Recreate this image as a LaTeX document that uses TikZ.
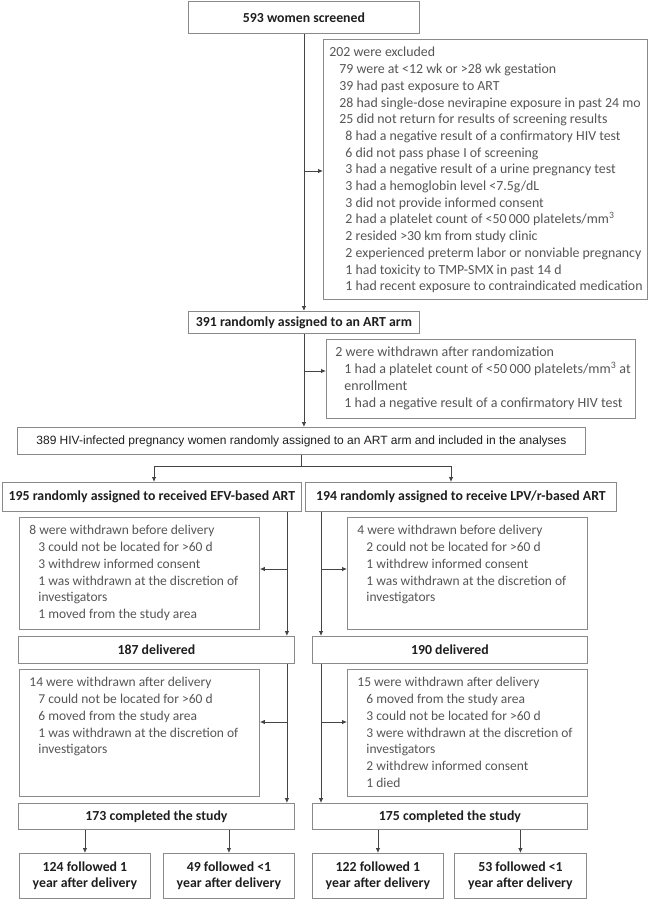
\documentclass[tikz,border=0pt]{standalone}
\usepackage{fontspec}
\setmainfont{Carlito}
\newfontfamily\arialf{Liberation Sans}
\usetikzlibrary{arrows.meta,calc}
\definecolor{boxc}{HTML}{8A8A8A}
\definecolor{txtc}{HTML}{555555}
\definecolor{headc}{HTML}{1E1E1E}
\definecolor{linec}{HTML}{444444}
\newcommand{\dfont}{\fontsize{13.5}{16.7}\selectfont}
\newcommand{\bigdfont}{\fontsize{13.85}{16.7}\selectfont}
\newcommand{\firstln}{\rule{0pt}{17.5pt}}
\newcommand{\dline}[2][0pt]{\mbox{\hspace*{#1}#2}\\}
\begin{document}
\begin{tikzpicture}[x=1pt,y=-1pt,
  box/.style={draw=boxc, line width=0.9pt, rectangle, inner sep=0pt, anchor=north west},
  head/.style={box, font=\fontsize{13.8}{16}\selectfont\bfseries, text=headc, align=center},
  dbox/.style={box, font=\dfont, text=txtc},
  arr/.style={draw=linec, line width=0.8pt, -{Latex[length=5pt,width=4.5pt]}},
  lnk/.style={draw=linec, line width=0.8pt}]
\useasboundingbox (0,0) rectangle (648,900);

% top section
\node[head, minimum width=231, minimum height=32] (b593) at (188,1) {593 women screened};
\node[dbox, font=\bigdfont] (exc) at (323,39) {\begin{minipage}[t][260pt][t]{324pt}\leftskip=6pt
\firstln 202 were excluded\\
\dline[10pt]{79 were at <12 wk or >28 wk gestation}
\dline[10pt]{39 had past exposure to ART}
\dline[10pt]{28 had single-dose nevirapine exposure in past 24 mo}
\dline[10pt]{25 did not return for results of screening results}
\dline[16pt]{8 had a negative result of a confirmatory HIV test}
\dline[16pt]{6 did not pass phase I of screening}
\dline[16pt]{3 had a negative result of a urine pregnancy test}
\dline[16pt]{3 had a hemoglobin level <7.5g/dL}
\dline[16pt]{3 did not provide informed consent}
\dline[16pt]{2 had a platelet count of <50\,000 platelets/mm\textsuperscript{3}}
\dline[16pt]{2 resided >30 km from study clinic}
\dline[16pt]{2 experienced preterm labor or nonviable pregnancy}
\dline[16pt]{1 had toxicity to TMP-SMX in past 14 d}
\mbox{\hspace*{16pt}1 had recent exposure to contraindicated medication}
\end{minipage}};
\node[head, minimum width=231, minimum height=22] (b391) at (188,311) {391 randomly assigned to an ART arm};
\node[dbox, font=\fontsize{14}{17}\selectfont] (wd) at (326,339) {\begin{minipage}[t][79pt][t]{309pt}\leftskip=9pt
\firstln 2 were withdrawn after randomization\\
\dline[9pt]{1 had a platelet count of <50\,000 platelets/mm\textsuperscript{3} at}
\dline[9pt]{enrollment}
\mbox{\hspace*{9pt}1 had a negative result of a confirmatory HIV test}
\end{minipage}};
\node[box, minimum width=568, minimum height=27, font=\arialf\fontsize{12}{14}\selectfont, text=headc] (b389) at (17,427) {389 HIV-infected pregnancy women randomly assigned to an ART arm and included in the analyses};

% arms
\node[head, minimum width=299, minimum height=29] (b195) at (2,482) {195 randomly assigned to received EFV-based ART};
\node[head, minimum width=311, minimum height=29] (b194) at (305,482) {194 randomly assigned to receive LPV/r-based ART};

\node[dbox] (bd1) at (19,517) {\begin{minipage}[t][112pt][t]{240pt}\leftskip=10pt
\firstln 8 were withdrawn before delivery\\
\dline[9pt]{3 could not be located for >60 d}
\dline[9pt]{3 withdrew informed consent}
\dline[9pt]{1 was withdrawn at the discretion of}
\dline[9pt]{investigators}
\mbox{\hspace*{9pt}1 moved from the study area}
\end{minipage}};
\node[dbox] (bd2) at (347,517) {\begin{minipage}[t][112pt][t]{240pt}\leftskip=10pt
\firstln 4 were withdrawn before delivery\\
\dline[9pt]{2 could not be located for >60 d}
\dline[9pt]{1 withdrew informed consent}
\dline[9pt]{1 was withdrawn at the discretion of}
\mbox{\hspace*{9pt}investigators}
\end{minipage}};

\node[head, minimum width=276, minimum height=27] (b187) at (18,636) {187 delivered};
\node[head, minimum width=275, minimum height=27] (b190) at (312,636) {190 delivered};

\node[dbox] (ad1) at (19,669) {\begin{minipage}[t][127pt][t]{240pt}\leftskip=10pt
\firstln 14 were withdrawn after delivery\\
\dline[9pt]{7 could not be located for >60 d}
\dline[9pt]{6 moved from the study area}
\dline[9pt]{1 was withdrawn at the discretion of}
\mbox{\hspace*{9pt}investigators}
\end{minipage}};
\node[dbox] (ad2) at (347,669) {\begin{minipage}[t][127pt][t]{240pt}\leftskip=10pt
\firstln 15 were withdrawn after delivery\\
\dline[9pt]{6 moved from the study area}
\dline[9pt]{3 could not be located for >60 d}
\dline[9pt]{3 were withdrawn at the discretion of}
\dline[9pt]{investigators}
\dline[9pt]{2 withdrew informed consent}
\mbox{\hspace*{9pt}1 died}
\end{minipage}};

\node[head, minimum width=276, minimum height=26] (b173) at (18,803) {173 completed the study};
\node[head, minimum width=275, minimum height=26] (b175) at (312,803) {175 completed the study};

\node[head, minimum width=131, minimum height=45] (b124) at (19,853) {124 followed 1\\year after delivery};
\node[head, minimum width=131, minimum height=45] (b49) at (163,853) {49 followed <1\\year after delivery};
\node[head, minimum width=131, minimum height=45] (b122) at (312,853) {122 followed 1\\year after delivery};
\node[head, minimum width=132, minimum height=45] (b53) at (454,853) {53 followed <1\\year after delivery};

% connectors
\coordinate (excin) at ([yshift=-132pt]exc.north west);
\draw[arr] (b593.south) -- (b391.north);
\draw[arr] (b593.south |- excin) -- (excin);
\coordinate (wdin) at ([yshift=-32pt]wd.north west);
\draw[arr] (b391.south) -- (b391.south |- b389.north);
\draw[arr] (b391.south |- wdin) -- (wdin);

\coordinate (sp) at (302,466);
\coordinate (sl) at (154,466);
\coordinate (sr) at (451,466);
\draw[lnk] (b389.south) -- (b389.south |- sp);
\draw[lnk] (sl) -- (sr);
\draw[arr] (sl) -- (sl |- b195.north);
\draw[arr] (sr) -- (sr |- b194.north);

\coordinate (L1) at ([xshift=-15pt]b195.south east);
\coordinate (R1) at ([xshift=16pt]b194.south west);
\coordinate (bd1in) at ([yshift=-52pt]bd1.north east);
\coordinate (bd2in) at ([yshift=-52pt]bd2.north west);
\draw[arr] (L1) -- (L1 |- b187.north);
\draw[arr] (L1 |- bd1in) -- (bd1in);
\draw[arr] (R1) -- (R1 |- b190.north);
\draw[arr] (R1 |- bd2in) -- (bd2in);

\coordinate (ad1in) at ([yshift=-53pt]ad1.north east);
\coordinate (ad2in) at ([yshift=-53pt]ad2.north west);
\draw[arr] (L1 |- b187.south) -- (L1 |- b173.north);
\draw[arr] (L1 |- ad1in) -- (ad1in);
\draw[arr] (R1 |- b190.south) -- (R1 |- b175.north);
\draw[arr] (R1 |- ad2in) -- (ad2in);

\draw[arr] (b124.north |- b173.south) -- (b124.north);
\draw[arr] (b49.north |- b173.south) -- (b49.north);
\draw[arr] (b122.north |- b175.south) -- (b122.north);
\draw[arr] (b53.north |- b175.south) -- (b53.north);
\end{tikzpicture}
\end{document}
